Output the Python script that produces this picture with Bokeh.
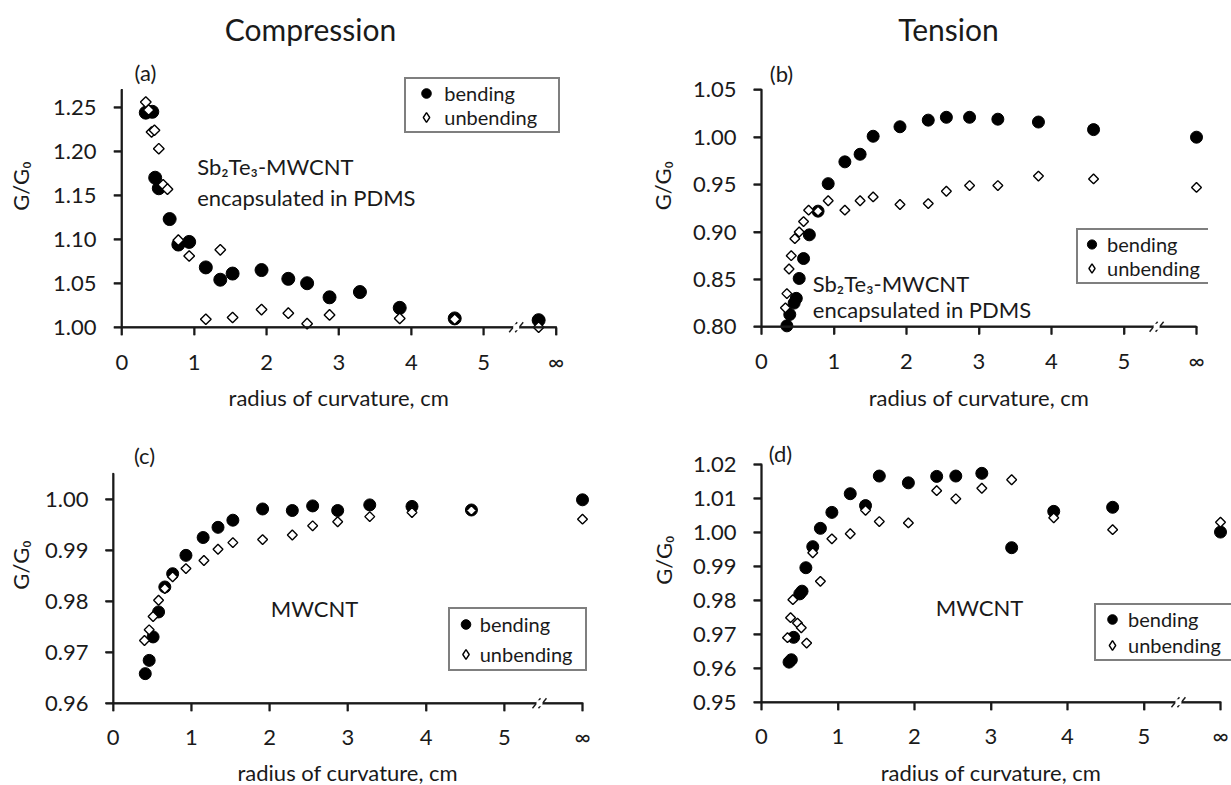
import numpy as np
from bokeh.plotting import figure
from bokeh.models import (Range1d, FixedTicker, Label, Legend, LegendItem, NumeralTickFormatter,
                          BoxAnnotation, LinearAxis)
from bokeh.layouts import column, row
from bokeh.embed import file_html
from bokeh.resources import INLINE

# ---------------- data ----------------
x_ticks = [0, 1, 2, 3, 4, 5, 6]
x_tick_labels = ["0", "1", "2", "3", "4", "5", "\u221e"]
series_names = ["bending", "unbending"]

# (a) Compression, Sb2Te3-MWCNT encapsulated in PDMS
a_bend_x = [0.33, 0.42, 0.46, 0.51, 0.66, 0.78, 0.93, 1.16, 1.36, 1.53, 1.93, 2.30, 2.56, 2.87, 3.29, 3.84, 4.60, 5.76]
a_bend_y = [1.244, 1.245, 1.170, 1.158, 1.123, 1.094, 1.097, 1.068, 1.054, 1.061, 1.065, 1.055, 1.050, 1.034, 1.040, 1.022, 1.010, 1.008]
a_unb_x = [0.33, 0.37, 0.41, 0.45, 0.51, 0.57, 0.63, 0.78, 0.93, 1.16, 1.36, 1.53, 1.93, 2.30, 2.56, 2.87, 3.84, 4.60, 5.76]
a_unb_y = [1.256, 1.247, 1.222, 1.224, 1.203, 1.162, 1.157, 1.099, 1.081, 1.009, 1.088, 1.011, 1.020, 1.016, 1.004, 1.014, 1.010, 1.009, 1.000]
a_yticks = [1.00, 1.05, 1.10, 1.15, 1.20, 1.25]

# (b) Tension, Sb2Te3-MWCNT encapsulated in PDMS
b_bend_x = [0.35, 0.39, 0.45, 0.48, 0.52, 0.58, 0.66, 0.78, 0.92, 1.15, 1.36, 1.54, 1.91, 2.30, 2.55, 2.87, 3.26, 3.82, 4.58, 6]
b_bend_y = [0.801, 0.813, 0.825, 0.830, 0.851, 0.872, 0.897, 0.922, 0.951, 0.974, 0.982, 1.001, 1.011, 1.018, 1.021, 1.021, 1.019, 1.016, 1.008, 1.000]
b_unb_x = [0.33, 0.35, 0.38, 0.41, 0.46, 0.52, 0.58, 0.65, 0.78, 0.92, 1.15, 1.36, 1.54, 1.91, 2.30, 2.55, 2.87, 3.26, 3.82, 4.58, 6]
b_unb_y = [0.820, 0.835, 0.861, 0.875, 0.893, 0.900, 0.911, 0.923, 0.922, 0.933, 0.923, 0.933, 0.937, 0.929, 0.930, 0.943, 0.949, 0.949, 0.959, 0.956, 0.947]
b_yticks = [0.80, 0.85, 0.90, 0.95, 1.00, 1.05]

# (c) Compression, MWCNT
c_bend_x = [0.41, 0.46, 0.51, 0.58, 0.66, 0.76, 0.93, 1.15, 1.34, 1.53, 1.91, 2.29, 2.55, 2.87, 3.28, 3.82, 4.58, 6]
c_bend_y = [0.9658, 0.9684, 0.9730, 0.9779, 0.9828, 0.9854, 0.9890, 0.9925, 0.9945, 0.9959, 0.9981, 0.9978, 0.9987, 0.9978, 0.9989, 0.9986, 0.9979, 0.9999]
c_unb_x = [0.40, 0.46, 0.51, 0.58, 0.66, 0.76, 0.93, 1.16, 1.34, 1.53, 1.91, 2.29, 2.55, 2.87, 3.28, 3.82, 4.58, 6]
c_unb_y = [0.9723, 0.9744, 0.9770, 0.9802, 0.9825, 0.9848, 0.9864, 0.9880, 0.9902, 0.9915, 0.9921, 0.9930, 0.9948, 0.9956, 0.9966, 0.9974, 0.9978, 0.9961]
c_yticks = [0.96, 0.97, 0.98, 0.99, 1.00]

# (d) Tension, MWCNT
d_bend_x = [0.36, 0.39, 0.42, 0.50, 0.53, 0.58, 0.67, 0.77, 0.92, 1.16, 1.36, 1.54, 1.92, 2.29, 2.54, 2.88, 3.27, 3.82, 4.59, 6]
d_bend_y = [0.9618, 0.9625, 0.9691, 0.9819, 0.9827, 0.9896, 0.9958, 1.0012, 1.0059, 1.0114, 1.0079, 1.0166, 1.0146, 1.0165, 1.0166, 1.0174, 0.9955, 1.0062, 1.0074, 1.0001]
d_unb_x = [0.34, 0.38, 0.41, 0.47, 0.52, 0.59, 0.67, 0.77, 0.92, 1.16, 1.36, 1.54, 1.92, 2.29, 2.54, 2.88, 3.27, 3.82, 4.59, 6]
d_unb_y = [0.9690, 0.9749, 0.9802, 0.9733, 0.9719, 0.9674, 0.9940, 0.9856, 0.9981, 0.9996, 1.0065, 1.0032, 1.0028, 1.0123, 1.0099, 1.0130, 1.0155, 1.0043, 1.0008, 1.0030]
d_yticks = [0.95, 0.96, 0.97, 0.98, 0.99, 1.00, 1.01, 1.02]

# ---------------- style ----------------
FONT = "Lato"
TXT = "#1a1a1a"
AX = "#1a1a1a"
YT = "G/G\u2080"
XT = "radius of curvature, cm"
TICK = 8      # tick length, px
LW = 1.8      # axis line thickness, px
PADX = 8      # frame padding beyond the axes, px


def blank_fig(w, h):
    f = figure(width=w, height=h, x_range=Range1d(0, w), y_range=Range1d(0, h),
               x_axis_type=None, y_axis_type=None, min_border_left=0, min_border_right=0,
               min_border_top=0, min_border_bottom=0, output_backend="svg", toolbar_location=None)
    f.outline_line_color = None
    return f


def blank_text(f, fx, fy, px, py, text, size="22px", angle=0.0):
    f.add_layout(Label(x=px - fx, y=f.height - (py - fy), text=text, text_font=FONT,
                       text_font_size=size, text_color=TXT, text_align="center",
                       text_baseline="middle", angle=angle))


def rule_axis(loc, bounds, ticks):
    ax = LinearAxis(fixed_location=loc, bounds=bounds, ticker=FixedTicker(ticks=ticks),
                    major_label_overrides={t: "" for t in ticks}, major_label_standoff=0,
                    major_label_text_font_size="1px",
                    axis_line_color=AX, axis_line_width=LW, major_tick_line_color=AX,
                    major_tick_line_width=LW, major_tick_in=0, major_tick_out=TICK,
                    minor_tick_line_color=None)
    return ax


def make_panel(fx, fy, fw, fh, x0_px, x6_px, ytop_px, ybot_px, ymin, ymax, ext_r,
               bend, unb, yticks, msize, xstand):
    left = x0_px - PADX
    bl = int(round(left - fx)); left = fx + bl
    fr = min(x6_px + ext_r, fx + fw); br = int(round(fx + fw - fr)); right = fx + fw - br
    xunit = (x6_px - x0_px) / 6.0
    x_lo = -(x0_px - left) / xunit
    x_hi = (right - x0_px) / xunit
    top = fy
    bottom = ybot_px + PADX
    bb = int(round(fy + fh - bottom)); bottom = fy + fh - bb
    yunit = (ybot_px - ytop_px) / (ymax - ymin)
    y_hi = ymax + (ytop_px - top) / yunit
    y_lo = ymin - (bottom - ybot_px) / yunit

    p = figure(width=fw, height=fh, x_range=Range1d(x_lo, x_hi), y_range=Range1d(y_lo, y_hi),
               min_border_left=bl, min_border_right=br, min_border_top=0, min_border_bottom=bb,
               output_backend="svg", toolbar_location=None)
    p.xgrid.visible = False
    p.ygrid.visible = False
    p.outline_line_color = None

    # library axes carry the tick labels
    for ax in (p.xaxis[0], p.yaxis[0]):
        ax.axis_line_color = None
        ax.major_tick_line_color = None
        ax.minor_tick_line_color = None
        ax.major_tick_out = 0
        ax.major_tick_in = 0
        ax.major_label_text_font = FONT
        ax.major_label_text_font_size = "22px"
        ax.major_label_text_color = TXT
    p.xaxis.ticker = FixedTicker(ticks=x_ticks)
    p.xaxis.major_label_overrides = dict(zip(x_ticks, x_tick_labels))
    p.xaxis.major_label_standoff = xstand
    p.yaxis.ticker = FixedTicker(ticks=yticks)
    p.yaxis.formatter = NumeralTickFormatter(format="0.00")
    p.yaxis.major_label_standoff = 17

    # axis rules with outward ticks, pinned at x = 0 and y = ymin
    p.add_layout(rule_axis(ymin, (0, 6), x_ticks), "below")
    p.add_layout(rule_axis(0, (ymin, ymax), yticks), "left")

    r1 = p.scatter(bend[0], bend[1], marker="circle", size=msize, fill_color="black",
                   line_color="black", line_width=1)
    p.scatter(unb[0], unb[1], marker="square", angle=np.pi / 4, size=msize * 0.58,
              fill_color="white", line_color="black", line_width=1.4)
    # legend proxy for the open diamonds (not drawn in the plot)
    r3 = p.scatter([np.nan], [np.nan], marker="diamond", size=msize, fill_color="white",
                   line_color="black", line_width=1.4)

    # the same rules and ticks as thin filled boxes
    hx = LW / 2 / xunit
    hy = LW / 2 / yunit
    tx = TICK / xunit
    ty = TICK / yunit
    boxes = [(-hx, 6 + hx, ymin - hy, ymin + hy), (-hx, hx, ymin - hy, ymax + hy)]
    boxes += [(t - hx, t + hx, ymin - ty, ymin) for t in x_ticks]
    boxes += [(-tx, 0, t - hy, t + hy) for t in yticks]
    p.quad(left=[b[0] for b in boxes], right=[b[1] for b in boxes],
           bottom=[b[2] for b in boxes], top=[b[3] for b in boxes],
           fill_color=AX, line_color=None, level="overlay")

    def to_data(px, py):
        return (px - x0_px) / xunit, ymax - (py - ytop_px) / yunit

    info = dict(left=left, bottom=bottom, to_data=to_data, ymin=ymin, ybot=ybot_px,
                xunit=xunit, yunit=yunit)
    return p, (r1, r3), info


def add_text(p, info, px, py, text, size="22px", align="left", baseline="alphabetic"):
    x, y = info["to_data"](px, py)
    p.add_layout(Label(x=x, y=y, text=text, text_font=FONT, text_font_size=size, text_color=TXT,
                       text_align=align, text_baseline=baseline))


def add_legend(p, rends, info, lx, ly, gw, stand, lw, h, spacing, pad):
    items = [LegendItem(label=series_names[0], renderers=[rends[0]]),
             LegendItem(label=series_names[1], renderers=[rends[1]])]
    leg = Legend(items=items, location=(lx - info["left"], info["bottom"] - ly), margin=0,
                 padding=pad, spacing=spacing, glyph_width=gw, glyph_height=h, label_height=h,
                 label_width=lw, label_standoff=stand,
                 label_text_font=FONT, label_text_font_size="20px", label_text_color=TXT,
                 border_line_color="black", border_line_width=2,
                 background_fill_color="white", background_fill_alpha=1.0)
    p.add_layout(leg)


def add_break(p, info):
    # white gap in the x axis with two slanted strokes, near x = 5.45
    ymin, yu, xu = info["ymin"], info["yunit"], info["xunit"]
    xc = 5.45
    p.add_layout(BoxAnnotation(left=xc - 3 / xu, right=xc + 3 / xu, bottom=ymin - 3 / yu,
                               top=ymin + 3 / yu, fill_color="white", fill_alpha=1.0,
                               line_color=None, level="overlay"))
    p.segment(x0=[xc - 7 / xu, xc - 1 / xu], y0=[ymin - 5 / yu] * 2,
              x1=[xc + 1 / xu, xc + 7 / xu], y1=[ymin + 5 / yu] * 2,
              line_color=AX, line_width=1.4, level="overlay")


# ---------- top row ----------
HDR = 50
PT = 332
XS_T = 30
hdr_a = blank_fig(628, HDR)
blank_text(hdr_a, 0, 0, 310, 28, "Compression", size="30px")
hdr_b = blank_fig(603, HDR)
blank_text(hdr_b, 628, 0, 948, 28, "Tension", size="30px")

la_fig = blank_fig(36, PT)
blank_text(la_fig, 0, HDR, 20, 208, YT, angle=np.pi / 2)
pa, ra, ia = make_panel(36, HDR, 592, PT, 121.4, 555.5, 89.3, 326.7, 1.00, 1.27, 10,
                        (a_bend_x, a_bend_y), (a_unb_x, a_unb_y), a_yticks, 13, 12)
add_break(pa, ia)
add_text(pa, ia, 145, 72, "(a)", align="center", baseline="middle")
add_text(pa, ia, 196.7, 166, "Sb\u2082Te\u2083-MWCNT")
add_text(pa, ia, 196.7, 196.7, "encapsulated in PDMS")
add_legend(pa, ra, ia, 404.3, 133.3, gw=36, stand=0, lw=112, h=24, spacing=0, pad=2)
xa_fig = blank_fig(628, XS_T)
blank_text(xa_fig, 0, HDR + PT, 338.4, 397, XT)

lb_fig = blank_fig(54, PT)
blank_text(lb_fig, 628, HDR, 662, 208, YT, angle=np.pi / 2)
pb, rb, ib = make_panel(682, HDR, 549, PT, 761, 1196, 89.3, 326.3, 0.80, 1.05, 12,
                        (b_bend_x, b_bend_y), (b_unb_x, b_unb_y), b_yticks, 12, 12)
add_break(pb, ib)
add_text(pb, ib, 781, 73, "(b)", align="center", baseline="middle")
add_text(pb, ib, 812.3, 282.7, "Sb\u2082Te\u2083-MWCNT")
add_text(pb, ib, 812.3, 309.3, "encapsulated in PDMS")
add_legend(pb, rb, ib, 1076, 284, gw=23, stand=4, lw=101, h=24, spacing=0, pad=2)
xb_fig = blank_fig(603, XS_T)
blank_text(xb_fig, 628, HDR + PT, 978.5, 397, XT)

# ---------- bottom row ----------
PB = 345
XS_B = 28
lc_fig = blank_fig(36, PB)
blank_text(lc_fig, 0, 412, 20, 588, YT, angle=np.pi / 2)
pc, rc, ic = make_panel(36, 412, 592, PB, 112.7, 582, 473.3, 702.7, 0.96, 1.005, 10,
                        (c_bend_x, c_bend_y), (c_unb_x, c_unb_y), c_yticks, 12, 11)
add_break(pc, ic)
add_text(pc, ic, 144, 455, "(c)", align="center", baseline="middle")
add_text(pc, ic, 314, 607.7, "MWCNT", align="center", baseline="middle")
add_legend(pc, rc, ic, 447.7, 671, gw=25, stand=2, lw=102, h=24, spacing=6, pad=3)
xc_fig = blank_fig(628, XS_B)
blank_text(xc_fig, 0, 412 + PB, 347.3, 772, XT)

ld_fig = blank_fig(52, PB)
blank_text(ld_fig, 628, 412, 663, 583, YT, angle=np.pi / 2)
pd_, rd, idd = make_panel(680, 412, 551, PB, 761, 1220, 464, 701.7, 0.95, 1.02, 11,
                          (d_bend_x, d_bend_y), (d_unb_x, d_unb_y), d_yticks, 12, 11)
add_break(pd_, idd)
add_text(pd_, idd, 780, 453, "(d)", align="center", baseline="middle")
add_text(pd_, idd, 979, 606.7, "MWCNT", align="center", baseline="middle")
add_legend(pd_, rd, idd, 1094, 661, gw=28, stand=2, lw=110, h=24, spacing=2, pad=2)
xd_fig = blank_fig(603, XS_B)
blank_text(xd_fig, 628, 412 + PB, 990.5, 772, XT)

top = row(column(hdr_a, row(la_fig, pa), xa_fig), column(hdr_b, row(lb_fig, pb), xb_fig))
bottom = row(column(row(lc_fig, pc), xc_fig), column(row(ld_fig, pd_), xd_fig))
layout = column(top, bottom)
open("out.html", "w").write(file_html(layout, INLINE))
